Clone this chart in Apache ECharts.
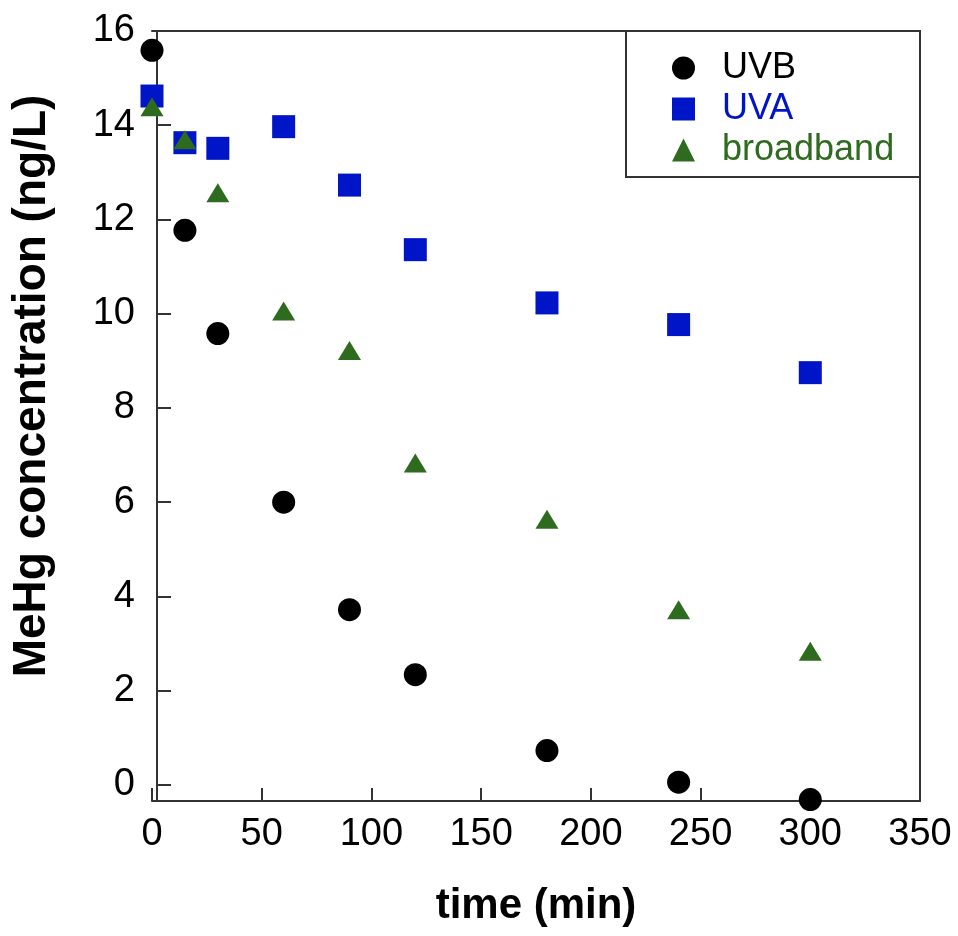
<!DOCTYPE html>
<html>
<head>
<meta charset="utf-8">
<script src="https://cdn.jsdelivr.net/npm/echarts@6/dist/echarts.min.js"></script>
<style>html,body{margin:0;padding:0;background:#fff}#c{width:958px;height:936px}</style>
</head>
<body>
<div id="c"></div>
<script>
const timeMin = [0, 15, 30, 60, 90, 120, 180, 240, 300];
const uvb = [15.59, 11.77, 9.58, 6.0, 3.72, 2.34, 0.73, 0.06, -0.31];
const uva = [14.62, 13.63, 13.51, 13.97, 12.73, 11.36, 10.23, 9.77, 8.75];
const broadband = [14.39, 13.69, 12.57, 10.06, 9.22, 6.83, 5.64, 3.72, 2.84];
const yTickValues = [0, 2, 4, 6, 8, 10, 12, 14, 16];
const seriesNames = ['UVB', 'UVA', 'broadband'];
const seriesColors = ['#000000', '#0014C8', '#2E6B1F'];

const FONT = '"Liberation Sans", Arial, Helvetica, sans-serif';
const lineStyle = { color: '#333', width: 2 };
const pairs = arr => timeMin.map((t, i) => [t, arr[i]]);

const chart = echarts.init(document.getElementById('c'), null, { renderer: 'canvas' });
chart.setOption({
  animation: false,
  backgroundColor: '#fff',
  grid: { left: 152, top: 31, width: 768, height: 770, show: false },
  xAxis: [{
    type: 'value', min: 0, max: 350, interval: 50, position: 'bottom',
    axisLine: { show: true, onZero: false, lineStyle: lineStyle },
    axisTick: { show: true, inside: true, length: 13, lineStyle: lineStyle },
    axisLabel: { fontSize: 38, color: '#000', fontFamily: FONT, margin: 15 },
    splitLine: { show: false }
  }, {
    type: 'value', min: 0, max: 350, position: 'top',
    axisLine: { show: true, onZero: false, lineStyle: lineStyle },
    axisTick: { show: false }, axisLabel: { show: false }, splitLine: { show: false }
  }],
  yAxis: [{
    type: 'value', min: -0.34, max: 16, position: 'left', offset: -5,
    axisLine: { show: true, onZero: false, lineStyle: lineStyle },
    axisTick: { show: true, inside: true, length: 14, lineStyle: lineStyle, customValues: yTickValues },
    axisLabel: { fontSize: 38, color: '#000', fontFamily: FONT, margin: 22, customValues: yTickValues },
    splitLine: { show: false }
  }, {
    type: 'value', min: -0.34, max: 16, position: 'right',
    axisLine: { show: true, onZero: false, lineStyle: lineStyle },
    axisTick: { show: false }, axisLabel: { show: false }, splitLine: { show: false }
  }],
  legend: {
    orient: 'vertical', left: 667, top: 45,
    itemWidth: 23, itemHeight: 23, itemGap: 5,
    textStyle: { fontSize: 36, fontFamily: FONT, padding: [0, 0, 0, 22] },
    data: seriesNames.map((n, i) => ({ name: n, textStyle: { color: seriesColors[i] } }))
  },
  graphic: [
    { type: 'rect', shape: { x: 626, y: 31, width: 294, height: 146 },
      style: { fill: 'none', stroke: '#333', lineWidth: 2 }, z: 100 },
    { type: 'text', x: 32, y: 386, rotation: Math.PI / 2,
      style: { text: 'MeHg concentration (ng/L)', font: 'bold 46px ' + FONT, fill: '#000', textAlign: 'center', textVerticalAlign: 'middle' } },
    { type: 'text', x: 536, y: 906,
      style: { text: 'time (min)', font: 'bold 42px ' + FONT, fill: '#000', textAlign: 'center', textVerticalAlign: 'middle' } }
  ],
  series: [
    { name: seriesNames[0], type: 'scatter', data: pairs(uvb), symbol: 'circle', symbolSize: 23,
      itemStyle: { color: seriesColors[0], opacity: 1 }, clip: false, z: 5 },
    { name: seriesNames[1], type: 'scatter', data: pairs(uva), symbol: 'rect', symbolSize: 23,
      itemStyle: { color: seriesColors[1], opacity: 1 }, clip: false, z: 3 },
    { name: seriesNames[2], type: 'scatter', data: pairs(broadband), symbol: 'triangle', symbolSize: [23, 19],
      itemStyle: { color: seriesColors[2], opacity: 1 }, clip: false, z: 4 }
  ]
});
</script>
</body>
</html>
